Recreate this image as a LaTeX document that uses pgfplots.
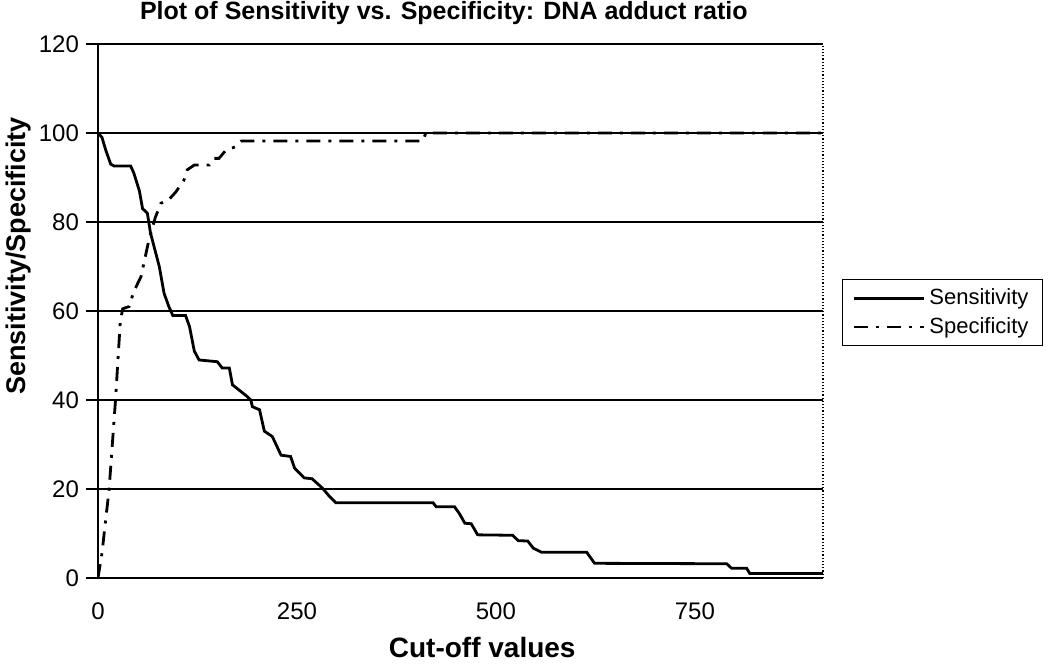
\documentclass[border=0pt]{standalone}
\usepackage{fontspec}
\setmainfont{Liberation Sans}
\usepackage{pgfplots}
\pgfplotsset{compat=1.18}
\begin{document}
\begin{tikzpicture}
\useasboundingbox (0,0) rectangle (525pt,332pt);
\begin{axis}[
  at={(49pt,43pt)}, anchor=south west,
  scale only axis, width=362.5pt, height=267pt,
  xmin=0, xmax=911, ymin=0, ymax=120,
  xtick={0,250,500,750}, ytick={0,20,...,120},
  axis x line=bottom, axis y line=left,
  axis line style={-, line width=1.4pt, black},
  ymajorgrids, grid style={black, line width=1.2pt},
  extra x ticks={911}, extra x tick labels={},
  extra x tick style={grid=major, major grid style={black, line width=0.6pt, densely dotted}, major tick length=0pt},
  tick align=outside, major tick length=6pt,
  ytick style={black, line width=1pt},
  xtick style={draw=none},
  /pgf/number format/assume math mode=true,
  ticklabel style={font=\fontsize{12}{14}\selectfont},
  xticklabel style={yshift=-3pt},
  title={Plot of Sensitivity vs. Specificity: DNA adduct ratio},
  title style={font=\bfseries\fontsize{12.5}{14}\selectfont, at={(axis description cs:0.477,1.058)}, anchor=center, yshift=-6pt},
  xlabel={Cut-off values},
  xlabel style={font=\bfseries\fontsize{14}{16}\selectfont, at={(axis description cs:0.53,-0.131)}, anchor=center},
  ylabel={Sensitivity/Specificity},
  ylabel style={font=\bfseries\fontsize{13.5}{16}\selectfont, at={(axis description cs:-0.110,0.603)}, anchor=center},
  legend style={at={(1.026,0.497)}, anchor=west, draw=black, line width=0.8pt,
    font=\fontsize{11}{13}\selectfont, inner xsep=5pt, inner ysep=2.5pt, row sep=1pt, cells={anchor=west}},
  legend image code/.code={\draw[#1] (0pt,0pt) -- (35pt,0pt);},
]
\addplot[black, line width=1.4pt, sharp plot] coordinates {
(0,100)(5,99)(10,96)(16,93)(20,92.6)(41,92.6)(45,91)(52,87)(56,83)(62,82)(66,77.5)(77,70)(83,64)(89,61)(94,59)(110,59)(115,56.5)(121,51)(127,49)(150,48.6)(156,47.2)(165,47.2)(169,43.4)(186,41)(192,40)(194,38.5)(203,37.8)(209,33)(219,31.8)(230,27.6)(242,27.3)(247,24.7)(259,22.5)(269,22.3)(282,20.2)(291,18.3)(299,16.9)(421,16.9)(425,16)(448,16)(454,14.5)(461,12.3)(469,12.2)(477,9.7)(521,9.6)(528,8.4)(540,8.3)(547,6.7)(557,5.8)(614,5.8)(624,3.3)(790,3.2)(796,2.2)(815,2.2)(819,1)(911,1)
};
\addlegendentry{Sensitivity}
\addplot[black, line width=1.4pt, dash pattern=on 7pt off 4pt on 1.5pt off 4pt] coordinates {
(0,0)(5,5.6)(14,20)(22,40)(28,57.6)(31,60.5)(39,61)(45,64.4)(54,67.7)(64,76)(72,81)(79,84.2)(89,85)(98,86.8)(108,89.4)(112,91.7)(121,92.8)(140,92.8)(146,94.3)(152,94.3)(161,96.2)(173,96.9)(180,98.2)(408,98.2)(412,100)(911,100)
};
\addlegendentry{Specificity}
\end{axis}
\end{tikzpicture}
\end{document}
